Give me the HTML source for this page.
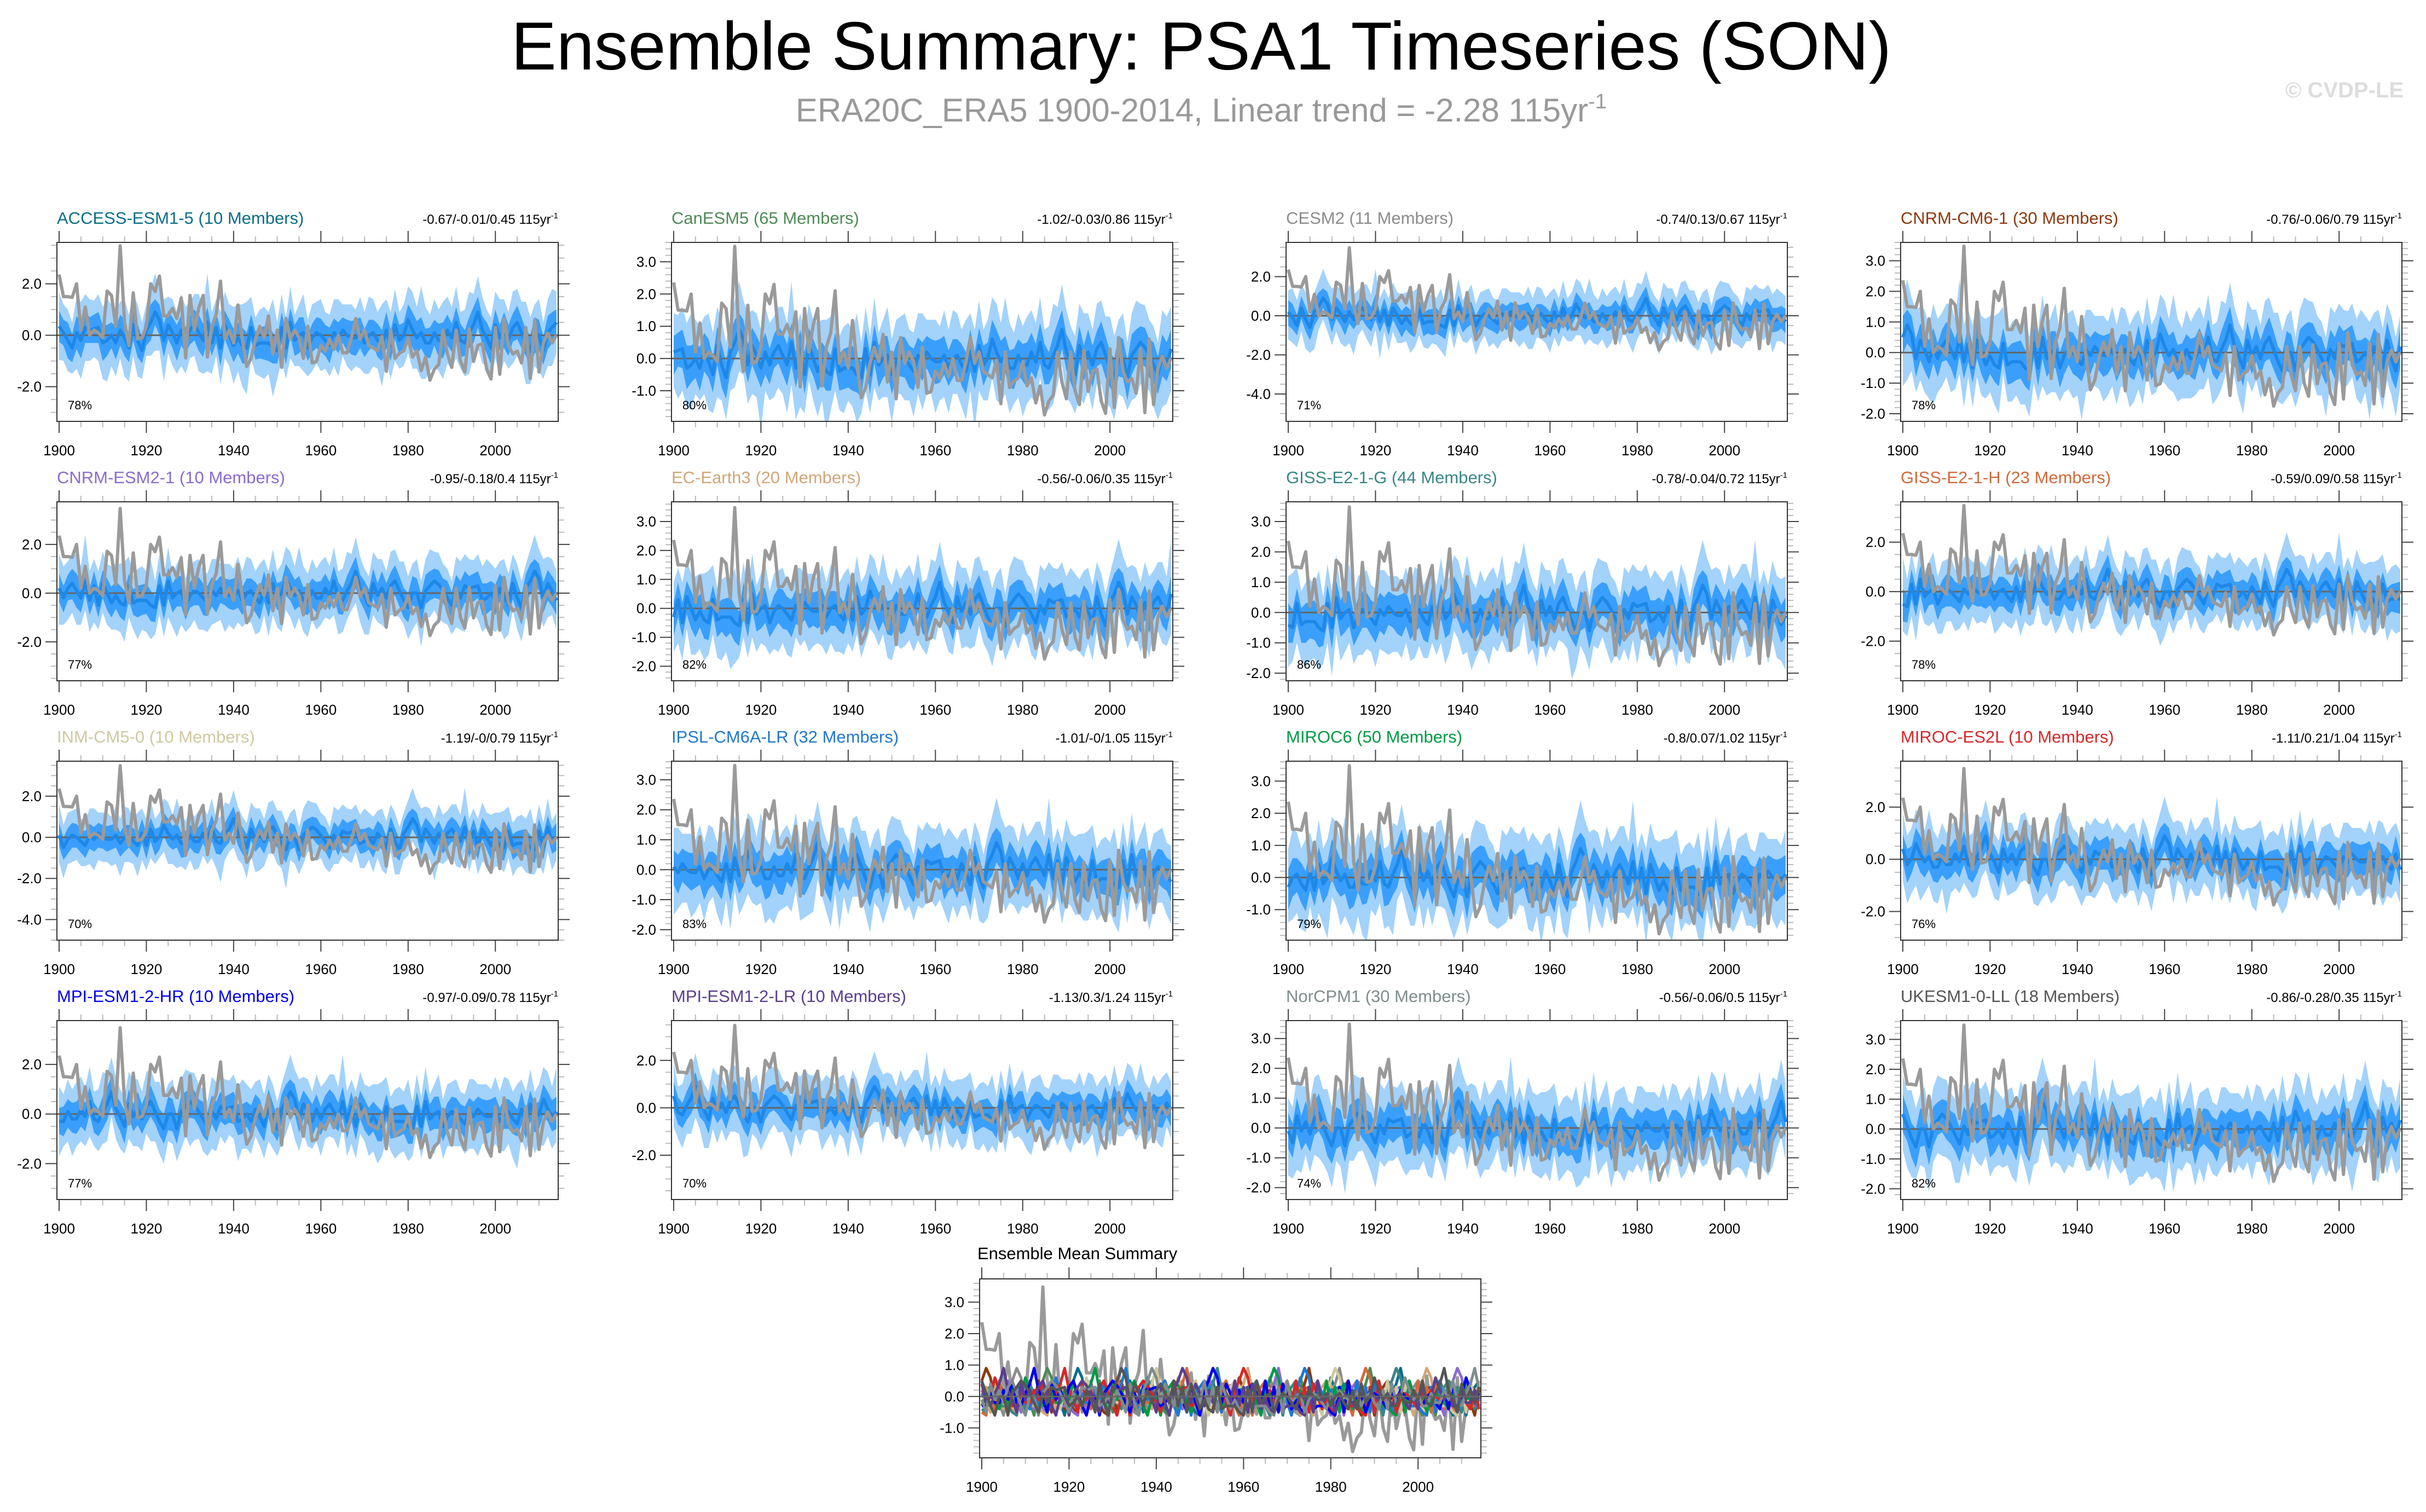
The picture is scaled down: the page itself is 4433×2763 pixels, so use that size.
<!DOCTYPE html>
<html><head><meta charset="utf-8">
<style>
html,body{margin:0;padding:0;background:#fff;}
body{width:4433px;height:2758px;overflow:hidden;font-family:"Liberation Sans",sans-serif;}
svg text{font-family:"Liberation Sans",sans-serif;}
</style></head>
<body>
<svg id="fig" width="4433" height="2758" viewBox="0 0 4433 2758" xmlns="http://www.w3.org/2000/svg">
<text x="2195" y="127" font-size="124" text-anchor="middle" fill="#000">Ensemble Summary: PSA1 Timeseries (SON)</text>
<text x="2195" y="222" font-size="60" text-anchor="middle" fill="#999">ERA20C_ERA5 1900-2014, Linear trend = -2.28 115yr<tspan dy="-24" font-size="38">-1</tspan></text>
<text x="4392" y="178" font-size="40" font-weight="bold" text-anchor="end" fill="#ddd">© CVDP-LE</text>
</svg>
<script>
const years = [];
for (let y = 1900; y <= 2014; y++) years.push(y);
const obsValues = [2.36,1.5,1.5,1.47,2.0,0.2,1.1,0.0,0.2,0.1,
-0.1,1.72,1.55,0.35,3.48,0.5,-0.4,1.65,-0.15,-0.1,
0.35,2.0,1.7,2.3,0.75,0.75,1.05,0.65,1.45,-0.88,
1.55,0.2,1.05,1.55,-0.85,0.35,0.8,2.1,-0.15,0.2,
-0.3,1.18,-0.15,-1.22,-0.9,-0.15,0.35,-0.1,0.75,-0.73,
0.2,-1.25,0.65,-0.15,0.2,-0.1,-0.9,0.35,-1.08,-1.02,
-0.39,-0.62,-0.15,-0.56,0.0,-0.68,-0.68,-0.1,0.65,-0.15,
0.2,-0.4,-0.5,-0.6,-0.05,-1.4,0.2,-0.9,-0.7,-0.6,
-0.1,-0.85,-0.6,-1.38,-0.85,-1.75,-1.32,-1.14,0.2,-0.73,
-1.25,0.2,-1.0,-1.43,0.25,-1.02,-0.39,-0.33,-1.32,-1.7,
0.3,-1.52,0.65,-0.39,-0.73,-0.62,-1.08,0.3,-1.68,0.6,
-1.43,-0.3,0.08,-0.3,0.0];
const ensMean = [0.35,0.1,-0.2,-0.5,0.1,-0.2,0.3,0.2,0.25,0.3,
-0.3,-0.2,0.0,-0.3,0.2,-0.1,-0.5,0.4,-0.2,-0.6,
0.2,0.5,0.9,0.6,-0.2,0.4,0.1,-0.3,0.2,-0.2,
0.2,0.4,0.1,-0.2,0.5,-0.3,0.3,-0.5,0.4,0.0,
-0.4,-0.1,-0.4,-0.5,0.3,-0.4,-0.3,-0.3,-0.3,-0.5,
-0.6,0.3,-0.5,0.5,-0.2,0.0,0.1,-0.5,-0.1,0.1,
0.0,-0.2,-0.4,0.1,-0.1,0.2,0.0,-0.1,-0.1,0.1,
-0.3,0.0,0.1,-0.2,-0.4,0.2,-0.4,0.4,-0.2,0.0,
0.6,0.2,-0.1,0.1,-0.3,-0.3,0.1,-0.2,-0.2,0.2,
-0.1,0.5,-0.2,-0.3,0.1,0.4,0.9,0.2,-0.1,-0.5,
0.4,-0.1,0.2,-0.2,0.3,0.5,0.1,-0.3,-0.6,0.0,
0.0,-0.6,0.1,0.3,0.5];
const outerSpread = [1.3,1.1,1.2,1.0,1.4,1.5,1.3,1.2,1.1,1.3,
1.4,1.6,1.2,1.3,1.1,1.5,1.3,1.2,1.4,1.1,
1.0,1.3,1.5,1.2,1.6,1.1,1.3,1.2,1.4,1.3,
1.1,1.2,1.5,1.3,1.9,1.2,1.1,1.4,1.3,1.2,
1.5,1.3,1.6,1.8,1.2,1.1,1.3,1.4,1.2,1.9,
1.1,1.3,1.2,1.4,1.0,1.2,1.5,1.1,1.3,1.2,
1.4,1.1,1.2,1.3,1.5,1.0,1.2,1.3,1.1,1.4,
1.2,1.5,1.3,1.1,1.6,1.2,1.3,1.4,1.1,1.2,
1.3,1.5,1.2,1.8,1.4,1.1,1.3,1.2,1.5,1.3,
1.2,1.4,1.1,1.3,1.6,1.2,1.4,1.3,1.1,1.2,
1.3,1.5,1.2,1.1,1.4,1.3,1.2,1.6,1.3,1.2,
1.4,1.1,1.3,1.5,1.2];
const innerSpread = [0.6,0.5,0.7,0.55,0.65,0.7,0.6,0.5,0.55,0.6,
0.7,0.6,0.5,0.65,0.6,0.7,0.55,0.6,0.65,0.5,
0.6,0.7,0.5,0.6,0.65,0.55,0.6,0.7,0.6,0.5,
0.55,0.6,0.7,0.65,0.6,0.5,0.6,0.7,0.55,0.6,
0.65,0.6,0.7,0.6,0.5,0.55,0.6,0.65,0.7,0.6,
0.5,0.6,0.65,0.55,0.6,0.7,0.6,0.5,0.55,0.6,
0.65,0.6,0.7,0.55,0.6,0.5,0.6,0.65,0.7,0.6,
0.55,0.6,0.5,0.65,0.6,0.7,0.6,0.55,0.6,0.5,
0.6,0.7,0.65,0.6,0.55,0.6,0.5,0.65,0.7,0.6,
0.55,0.6,0.65,0.5,0.6,0.7,0.6,0.55,0.6,0.65,
0.6,0.5,0.7,0.6,0.55,0.65,0.6,0.5,0.6,0.7,
0.6,0.55,0.65,0.6,0.5];
const modelNames = ["ACCESS-ESM1-5 (10 Members)","CanESM5 (65 Members)","CESM2 (11 Members)","CNRM-CM6-1 (30 Members)",
"CNRM-ESM2-1 (10 Members)","EC-Earth3 (20 Members)","GISS-E2-1-G (44 Members)","GISS-E2-1-H (23 Members)",
"INM-CM5-0 (10 Members)","IPSL-CM6A-LR (32 Members)","MIROC6 (50 Members)","MIROC-ES2L (10 Members)",
"MPI-ESM1-2-HR (10 Members)","MPI-ESM1-2-LR (10 Members)","NorCPM1 (30 Members)","UKESM1-0-LL (18 Members)"];
const modelColors = ["#0b6e8a","#4f8a57","#8c8c8c","#8b3a0f","#8a6bd1","#d2a679","#3b8686","#d2693c",
"#cfc9a0","#1f78d1","#009a44","#d62728","#0000ee","#5a3e8e","#7f8c8d","#555555"];
const trendLabels = ["-0.67/-0.01/0.45","-1.02/-0.03/0.86","-0.74/0.13/0.67","-0.76/-0.06/0.79",
"-0.95/-0.18/0.4","-0.56/-0.06/0.35","-0.78/-0.04/0.72","-0.59/0.09/0.58",
"-1.19/-0/0.79","-1.01/-0/1.05","-0.8/0.07/1.02","-1.11/0.21/1.04",
"-0.97/-0.09/0.78","-1.13/0.3/1.24","-0.56/-0.06/0.5","-0.86/-0.28/0.35"];
const pctLabels = ["78%","80%","71%","78%","77%","82%","86%","78%","70%","83%","79%","76%","77%","70%","74%","82%"];
const yMinArr = [-3.35,-1.95,-5.4,-2.25,-3.6,-2.5,-2.25,-3.6,-5.0,-2.35,-1.95,-3.1,-3.45,-3.87,-2.4,-2.36];
const yMaxArr = [3.61,3.6,3.75,3.6,3.75,3.68,3.65,3.63,3.7,3.62,3.62,3.76,3.77,3.68,3.6,3.63];
const yStepArr = [2,1,2,1,2,1,1,2,2,1,1,2,2,2,1,1];
const xTickYears = [1900,1920,1940,1960,1980,2000];

const NS = "http://www.w3.org/2000/svg";
const fig = document.getElementById('fig');
function mk(tag, attrs, parent){const e=document.createElementNS(NS,tag);for(const k in attrs)e.setAttribute(k,attrs[k]);(parent||fig).appendChild(e);return e;}

const PW = 916, PH = 327;
const X0 = 1899.5, X1 = 2014.4;

function drawPanel(px, py, ymin, ymax, step, g){
  const sx = v => px + (v - X0) / (X1 - X0) * PW;
  const sy = v => py + (ymax - v) / (ymax - ymin) * PH;
  for (let yr = 1900; yr <= 2014; yr += 5) {
    const major = (yr % 20 === 0), L = major ? 21 : 11, x = sx(yr);
    const t1 = mk('line',{x1:x,x2:x,y1:py-L,y2:py,stroke:major?'#444':'#bbb','stroke-width':2},g);
    
    
    const t2 = mk('line',{x1:x,x2:x,y1:py+PH,y2:py+PH+L,stroke:major?'#444':'#bbb','stroke-width':2},g);
    
    
  }
  const minor = step === 2 ? 0.5 : 0.2;
  for (let k = Math.ceil(ymin/minor); k*minor <= ymax; k++) {
    const v = k*minor, y = sy(v);
    const isMajor = Math.abs(v/step - Math.round(v/step)) < 1e-6;
    const L = isMajor ? 21 : 11;
    const a = mk('line',{x1:px-L,x2:px,y1:y,y2:y,stroke:isMajor?'#444':'#bbb','stroke-width':2},g);
    
    
    const b = mk('line',{x1:px+PW,x2:px+PW+L,y1:y,y2:y,stroke:isMajor?'#444':'#bbb','stroke-width':2},g);
    
    
    if (isMajor) {
      const t = mk('text',{x:px-28,y:y+9,'font-size':26,'text-anchor':'end',fill:'#000'},g);
      
      
      t.textContent = (Math.abs(v) < 1e-9 ? 0 : v).toFixed(1);
    }
  }
  xTickYears.forEach(yr => {
    const t = mk('text',{x:sx(yr),y:py+PH+62,'font-size':26,'text-anchor':'middle',fill:'#000'},g);
    
    
    t.textContent = yr;
  });
  return {sx, sy};
}
function polyPts(sx, sy, vals){return vals.map((v,i)=>sx(years[i]).toFixed(1)+','+sy(v).toFixed(1)).join(' ');}
function clipFor(id, px, py, g){
  const cp = mk('clipPath',{id:id},g);
  mk('rect',{x:px,y:py,width:PW,height:PH},cp);
}

for (let p = 0; p < 16; p++) {
  const col = p % 4, row = Math.floor(p / 4);
  const px = 104 + col * 1123, py = 443 + row * 474;
  const g = mk('g',{});
  
  
  const {sx, sy} = drawPanel(px, py, yMinArr[p], yMaxArr[p], yStepArr[p], g);
  clipFor('c'+p, px, py, g);
  const shift = p * 7;
  const mean = years.map((_, i) => ensMean[(i + shift) % ensMean.length]);
  const oHi = mean.map((m,i)=>m+outerSpread[(i+shift)%115]);
  const oLo = mean.map((m,i)=>m-outerSpread[(i+shift*2)%115]);
  const iHi = mean.map((m,i)=>m+innerSpread[(i+shift)%115]);
  const iLo = mean.map((m,i)=>m-innerSpread[(i+shift*3)%115]);
  const cg = mk('g',{'clip-path':'url(#c'+p+')'},g);
  const outer = mk('polygon',{points:polyPts(sx,sy,oHi)+' '+polyPts(sx,sy,oLo).split(' ').reverse().join(' '),fill:'#a3d2fb'},cg);
  
  
  const inner = mk('polygon',{points:polyPts(sx,sy,iHi)+' '+polyPts(sx,sy,iLo).split(' ').reverse().join(' '),fill:'#3a9ffc'},cg);
  
  
  const zl = mk('line',{x1:px,x2:px+PW,y1:sy(0),y2:sy(0),stroke:'#666','stroke-width':3},cg);
  
  
  const ml = mk('polyline',{points:polyPts(sx,sy,mean),fill:'none',stroke:'#1e88e8','stroke-width':6,'stroke-linejoin':'round'},cg);
  
  
  const ol = mk('polyline',{points:polyPts(sx,sy,obsValues),fill:'none',stroke:'#9a9a9a','stroke-width':6,'stroke-linejoin':'round'},cg);
  
  
  const box = mk('rect',{x:px,y:py,width:PW,height:PH,fill:'none',stroke:'#333','stroke-width':2},g);
  
  
  const tt = mk('text',{x:px,y:py-34,'font-size':31,fill:modelColors[p]},g);
  
  
  tt.textContent = modelNames[p];
  const tr = mk('text',{x:px+PW,y:py-34,'font-size':24,'text-anchor':'end',fill:'#000'},g);
  
  
  tr.textContent = trendLabels[p] + ' 115yr';
  const sup = mk('tspan',{dy:-10,'font-size':15},tr);
  sup.textContent = '-1';
  const pc = mk('text',{x:px+20,y:py+PH-22,'font-size':22,fill:'#000'},g);
  
  
  pc.textContent = pctLabels[p];
}

(function(){
  const px = 1790, py = 2337;
  const g = mk('g',{});
  
  
  const {sx, sy} = drawPanel(px, py, -1.95, 3.74, 1, g);
  clipFor('cs', px, py, g);
  const cg = mk('g',{'clip-path':'url(#cs)'},g);
  const ol = mk('polyline',{points:polyPts(sx,sy,obsValues),fill:'none',stroke:'#9a9a9a','stroke-width':6,'stroke-linejoin':'round'},cg);
  
  
  for (let p = 0; p < 16; p++) {
    const shift = p * 7;
    const mean = years.map((_, i) => ensMean[(i + shift) % ensMean.length]);
    const l = mk('polyline',{points:polyPts(sx,sy,mean),fill:'none',stroke:modelColors[p],'stroke-width':5,'stroke-linejoin':'round'},cg);
    
    
  }
  const zl = mk('line',{x1:px,x2:px+PW,y1:sy(0),y2:sy(0),stroke:'#666','stroke-width':3},cg);
  
  
  const box = mk('rect',{x:px,y:py,width:PW,height:PH,fill:'none',stroke:'#333','stroke-width':2},g);
  
  
  const tt = mk('text',{x:px-4,y:py-36,'font-size':31,fill:'#000'},g);
  
  
  tt.textContent = 'Ensemble Mean Summary';
})();
</script>
</body></html>
